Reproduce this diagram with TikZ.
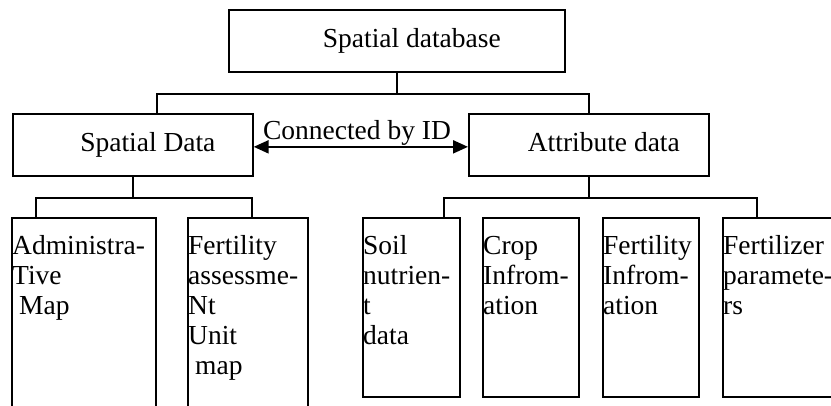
\documentclass[tikz,border=0pt]{standalone}
\usepackage{fontspec}
\setmainfont{Liberation Serif}
\usetikzlibrary{arrows.meta}
\begin{document}
\begin{tikzpicture}[x=1pt,y=-1pt,
  box/.style={draw, line width=1.7pt, inner sep=0pt, anchor=north west},
  lbl/.style={font=\fontsize{27.5}{30}\selectfont, inner sep=0pt},
  hdr/.style={box, lbl, text height=19pt, text depth=6pt, minimum height=62pt},
  col/.style={lbl, align=left, anchor=north west},
  conn/.style={line width=1.7pt},
  linktip/.tip={Triangle[length=15pt,width=13pt]}]
\fill[white] (0,0) rectangle (831,406);
\clip (0,0) rectangle (831,406);
\useasboundingbox (0,0) rectangle (831,406);

% header boxes
\node[hdr, minimum width=336pt] (top) at (228,9) {\hspace*{30pt}Spatial database};
\node[hdr, minimum width=240pt] (sd) at (12,113) {\hspace*{30pt}Spatial Data};
\node[hdr, minimum width=240pt] (ad) at (468,113) {\hspace*{30pt}Attribute data};

% leaf boxes
\node[box, minimum width=144pt, minimum height=230pt] (adm) at (11,217) {};
\node[box, minimum width=120pt, minimum height=230pt] (fau) at (187,217) {};
\node[box, minimum width=97pt, minimum height=179pt] (soil) at (362,217) {};
\node[box, minimum width=96pt, minimum height=179pt] (crop) at (482,217) {};
\node[box, minimum width=96pt, minimum height=179pt] (fi) at (602,217) {};
\node[box, minimum width=150pt, minimum height=179pt] (fz) at (722,217) {};

% leaf texts
\node[col] (admt) at ([xshift=1pt,yshift=-17pt]adm.north west)
  {\rule{0pt}{20pt}Administra-\\Tive\\\hspace*{7pt}Map};
\node[col] (faut) at ([xshift=1pt,yshift=-17pt]fau.north west)
  {\rule{0pt}{20pt}Fertility\\assessme-\\Nt\\Unit\\\hspace*{7pt}map};
\node[col] (soilt) at ([xshift=1pt,yshift=-17pt]soil.north west)
  {\rule{0pt}{20pt}Soil\\nutrien-\\t\\data};
\node[col] (cropt) at ([xshift=1pt,yshift=-17pt]crop.north west)
  {\rule{0pt}{20pt}Crop\\Infrom-\\ation};
\node[col] (fit) at ([xshift=1pt,yshift=-17pt]fi.north west)
  {\rule{0pt}{20pt}Fertility\\Infrom-\\ation};
\node[col] (fzt) at ([xshift=1pt,yshift=-17pt]fz.north west)
  {\rule{0pt}{20pt}Fertilizer\\paramete-\\rs};

% connectors
\draw[conn] (top.south) -- ++(0,21) coordinate (j1);
\draw[conn] ([xshift=24pt]sd.north) |- (j1) -| (ad.north);
\draw[conn] (sd.south) -- ++(0,21) coordinate (j2);
\draw[conn] ([xshift=25pt]adm.north west) |- (j2) -| ([xshift=65pt]fau.north west);
\draw[conn] (ad.south) -- ++(0,21) coordinate (j3);
\draw[conn] ([xshift=82pt]soil.north west) |- (j3) -| ([xshift=35pt]fz.north west);

% link
\draw[linktip-linktip, line width=2.2pt] ([yshift=-2pt]sd.east) -- ([yshift=-2pt]ad.west);
\node[lbl, anchor=base] (cid) at (357,140) {Connected by ID};
\end{tikzpicture}
\end{document}
